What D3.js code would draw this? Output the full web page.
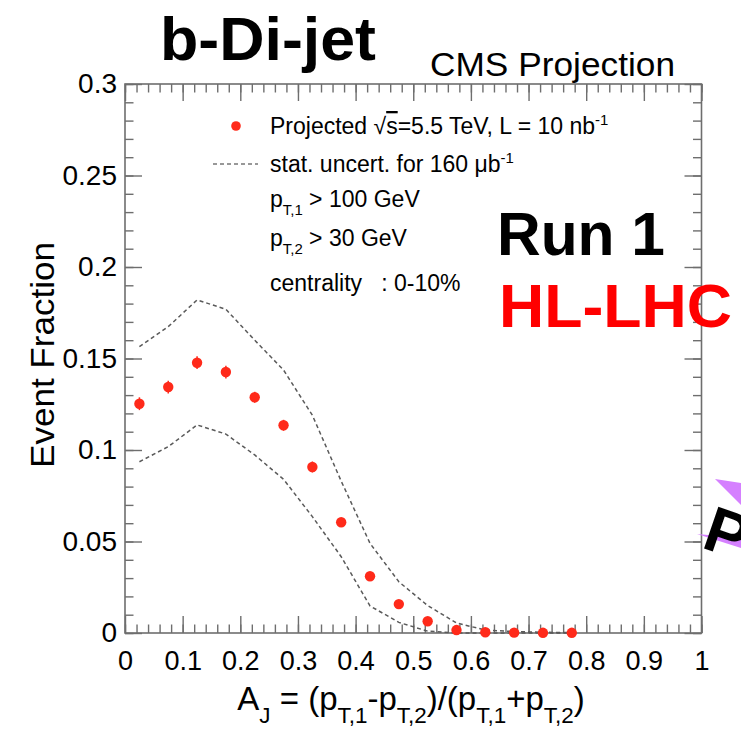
<!DOCTYPE html>
<html>
<head>
<meta charset="utf-8">
<script src="https://cdn.jsdelivr.net/npm/d3@7"></script>
<style>
  html, body { margin: 0; padding: 0; background: #fff; }
  svg { display: block; font-family: "Liberation Sans", Arial, Helvetica, sans-serif; }
  text { white-space: pre; }
</style>
</head>
<body>
<svg id="chart" width="741" height="736"></svg>
<script>
// ---------------- data ----------------
const ajCenters = [0.025, 0.075, 0.125, 0.175, 0.225, 0.275, 0.325, 0.375,
                   0.425, 0.475, 0.525, 0.575, 0.625, 0.675, 0.725, 0.775];
const eventFraction = [0.1253, 0.1344, 0.1477, 0.1426, 0.1288, 0.1135, 0.0907, 0.0605,
                       0.0310, 0.0158, 0.0064, 0.0016, 0.0004, 0.0002, 0.0001, 0.0001];
const fractionErr = [0.0035, 0.0035, 0.0035, 0.0035, 0.003, 0.003, 0.003, 0.002,
                     0.002, 0.001, 0.001, 0.001, 0.0005, 0.0005, 0.0005, 0.0005];
const statUpper = [0.1565, 0.1674, 0.1820, 0.1769, 0.1600, 0.1437, 0.1190, 0.0830,
                   0.0490, 0.0280, 0.0150, 0.0055, 0.0016, 0.0008, 0.0004, 0.0002];
const statLower = [0.0936, 0.1018, 0.1137, 0.1087, 0.0973, 0.0840, 0.0636, 0.0417,
                   0.0148, 0.0058, 0.0010, 0, 0, 0, 0, 0];
const xTickValues = [0, 0.1, 0.2, 0.3, 0.4, 0.5, 0.6, 0.7, 0.8, 0.9, 1];
const xTickLabels = ["0", "0.1", "0.2", "0.3", "0.4", "0.5", "0.6", "0.7", "0.8", "0.9", "1"];
const yTickValues = [0, 0.05, 0.1, 0.15, 0.2, 0.25, 0.3];
const yTickLabels = ["0", "0.05", "0.1", "0.15", "0.2", "0.25", "0.3"];

// ---------------- setup ----------------
const svg = d3.select("#chart");
svg.append("rect").attr("width", 741).attr("height", 736).attr("fill", "#fff");

const L = 125, R = 701.5, T = 84, B = 633;
const x = d3.scaleLinear().domain([0, 1]).range([L, R]);
const y = d3.scaleLinear().domain([0, 0.3]).range([B, T]);

const axisColor = "#6e6e6e";
const MAJ = 17, MIN = 8.5;
const xMinor = d3.range(0, 1.0001, 0.02).map(v => +v.toFixed(2));
const yMinor = d3.range(0, 0.3001, 0.01).map(v => +v.toFixed(2));

function styleAxis(g) {
  g.select(".domain").remove();
  g.selectAll(".tick line").attr("stroke", axisColor).attr("stroke-width", 1.4);
  g.selectAll("text").attr("fill", "#000");
}

// bottom
svg.append("g").attr("transform", `translate(0,${B})`)
  .call(d3.axisBottom(x).tickValues(xMinor).tickSize(-MIN).tickFormat(""))
  .call(styleAxis);
svg.append("g").attr("transform", `translate(0,${B})`)
  .call(d3.axisBottom(x).tickValues(xTickValues).tickSize(-MAJ).tickPadding(18)
        .tickFormat((d, i) => xTickLabels[i]))
  .call(styleAxis)
  .call(g => g.selectAll("text").attr("font-size", 27).attr("font-family", "Liberation Sans, Arial, sans-serif"));
// top
svg.append("g").attr("transform", `translate(0,${T})`)
  .call(d3.axisTop(x).tickValues(xMinor).tickSize(-MIN).tickFormat(""))
  .call(styleAxis);
svg.append("g").attr("transform", `translate(0,${T})`)
  .call(d3.axisTop(x).tickValues(xTickValues).tickSize(-MAJ).tickFormat(""))
  .call(styleAxis);
// left
svg.append("g").attr("transform", `translate(${L},0)`)
  .call(d3.axisLeft(y).tickValues(yMinor).tickSize(-MIN).tickFormat(""))
  .call(styleAxis);
svg.append("g").attr("transform", `translate(${L},0)`)
  .call(d3.axisLeft(y).tickValues(yTickValues).tickSize(-MAJ).tickPadding(8)
        .tickFormat((d, i) => yTickLabels[i]))
  .call(styleAxis)
  .call(g => g.selectAll("text").attr("font-size", 28).attr("font-family", "Liberation Sans, Arial, sans-serif"));
// right
svg.append("g").attr("transform", `translate(${R},0)`)
  .call(d3.axisRight(y).tickValues(yMinor).tickSize(-MIN).tickFormat(""))
  .call(styleAxis);
svg.append("g").attr("transform", `translate(${R},0)`)
  .call(d3.axisRight(y).tickValues(yTickValues).tickSize(-MAJ).tickFormat(""))
  .call(styleAxis);

// frame
svg.append("rect").attr("x", L).attr("y", T).attr("width", R - L).attr("height", B - T)
  .attr("fill", "none").attr("stroke", axisColor).attr("stroke-width", 1.6);

// ---------------- stat uncertainty band lines ----------------
const line = d3.line().x(d => x(d[0])).y(d => y(d[1]));
[statUpper, statLower].forEach(arr => {
  svg.append("path")
    .datum(ajCenters.map((c, i) => [c, arr[i]]))
    .attr("d", line)
    .attr("fill", "none")
    .attr("stroke", "#5a5a5a")
    .attr("stroke-width", 1.5)
    .attr("stroke-dasharray", "4,3");
});

// ---------------- points ----------------
const pts = ajCenters.map((c, i) => ({ x: c, y: eventFraction[i], e: fractionErr[i] }));
svg.append("g").selectAll("line").data(pts).join("line")
  .attr("x1", d => x(d.x)).attr("x2", d => x(d.x))
  .attr("y1", d => y(d.y + d.e)).attr("y2", d => y(d.y - d.e))
  .attr("stroke", "#ff2a1a").attr("stroke-width", 1.5);
svg.append("g").selectAll("circle").data(pts).join("circle")
  .attr("cx", d => x(d.x)).attr("cy", d => y(d.y)).attr("r", 5.2)
  .attr("fill", "#ff2a1a");

// ---------------- legend ----------------
svg.append("circle").attr("cx", 236).attr("cy", 126).attr("r", 4.8).attr("fill", "#ff2a1a");
svg.append("line").attr("x1", 213).attr("x2", 258).attr("y1", 164).attr("y2", 164)
  .attr("stroke", "#777").attr("stroke-width", 1.3).attr("stroke-dasharray", "4,3");

const lf = 23;
function legText(yb) {
  return svg.append("text").attr("x", 270).attr("y", yb).attr("font-size", lf).attr("fill", "#000");
}
{
  const t = legText(134);
  t.append("tspan").text("Projected ");
  t.append("tspan").text("√");
  t.append("tspan").attr("text-decoration", "overline").text("s");
  t.append("tspan").text("=5.5 TeV, L = 10 nb");
  t.append("tspan").attr("font-size", lf * 0.65).attr("dy", -9).text("-1");
}
{
  const t = legText(172);
  t.append("tspan").text("stat. uncert. for 160 μb");
  t.append("tspan").attr("font-size", lf * 0.65).attr("dy", -9).text("-1");
}
{
  const t = legText(207);
  t.append("tspan").text("p");
  t.append("tspan").attr("font-size", lf * 0.65).attr("dy", 8).text("T,1");
  t.append("tspan").attr("dy", -8).text(" > 100 GeV");
}
{
  const t = legText(246);
  t.append("tspan").text("p");
  t.append("tspan").attr("font-size", lf * 0.65).attr("dy", 8).text("T,2");
  t.append("tspan").attr("dy", -8).text(" > 30 GeV");
}
legText(291).text("centrality   : 0-10%");

// ---------------- titles / annotations ----------------
svg.append("text").attr("x", 160).attr("y", 60).attr("font-size", 62)
  .attr("font-weight", "bold").attr("textLength", 216).attr("lengthAdjust", "spacingAndGlyphs")
  .text("b-Di-jet");
svg.append("text").attr("x", 430).attr("y", 76).attr("font-size", 33)
  .attr("textLength", 245).attr("lengthAdjust", "spacingAndGlyphs").text("CMS Projection");
svg.append("text").attr("x", 497).attr("y", 255).attr("font-size", 62)
  .attr("font-weight", "bold").attr("textLength", 168).attr("lengthAdjust", "spacingAndGlyphs")
  .text("Run 1");
svg.append("text").attr("x", 499).attr("y", 327).attr("font-size", 62)
  .attr("font-weight", "bold").attr("fill", "#ff0000")
  .attr("textLength", 233).attr("lengthAdjust", "spacingAndGlyphs").text("HL-LHC");

// partial purple arrow + rotated "P" at right edge (cut by the image edge, as in the reference)
svg.append("polygon").attr("points", "715,479 741,483 741,505").attr("fill", "#d580ff");
svg.append("polygon").attr("points", "697,534 741,538 741,548").attr("fill", "#d580ff");
svg.append("text").attr("transform", "translate(700,547) rotate(19)")
  .attr("font-size", 64).attr("font-weight", "bold").text("P");

// axis titles
svg.append("text").attr("transform", "translate(54,355) rotate(-90)")
  .attr("text-anchor", "middle").attr("font-size", 34)
  .attr("textLength", 226).attr("lengthAdjust", "spacingAndGlyphs").text("Event Fraction");

{
  const fs = 33, sub = fs * 0.68, dn = 13;
  const t = svg.append("text").attr("x", 411).attr("y", 710).attr("text-anchor", "middle")
    .attr("font-size", fs);
  const parts = [
    ["A", 0], ["J", 1], [" = (p", -1], ["T,1", 1], ["-p", -1], ["T,2", 1],
    [")/(p", -1], ["T,1", 1], ["+p", -1], ["T,2", 1], [")", -1]
  ];
  parts.forEach(([s, k]) => {
    const ts = t.append("tspan").text(s);
    if (k === 1) ts.attr("font-size", sub).attr("dy", dn);
    if (k === -1) ts.attr("dy", -dn);
  });
}
</script>
</body>
</html>
